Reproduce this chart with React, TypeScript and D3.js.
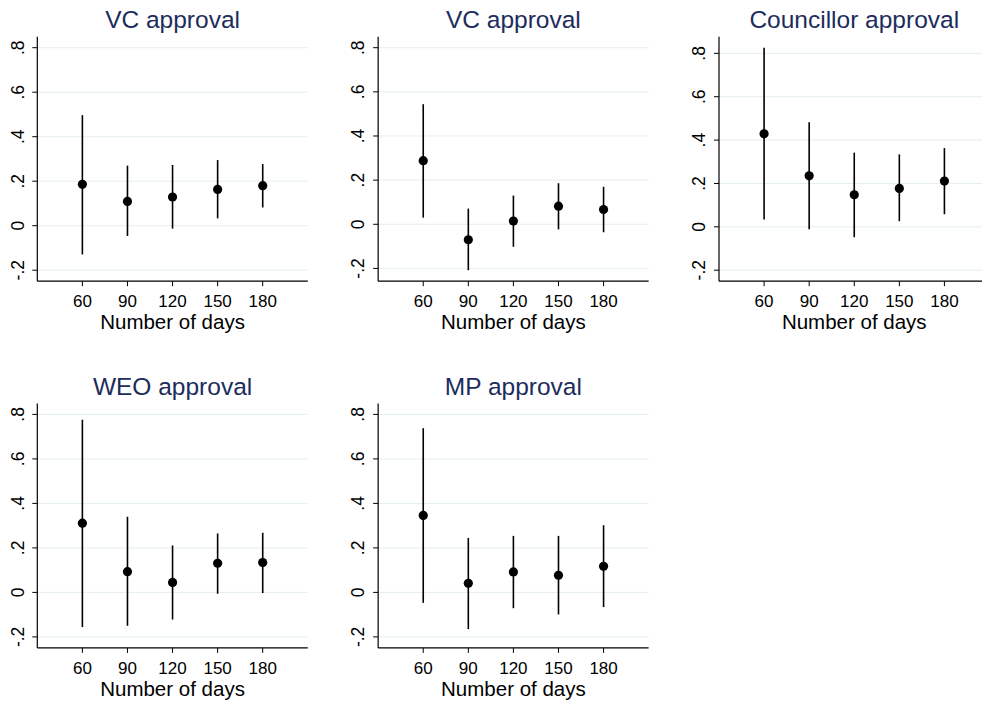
import React from "react";
import * as d3 from "d3";

const days = [60, 90, 120, 150, 180];
const titles = ["VC approval", "VC approval", "Councillor approval", "WEO approval", "MP approval"];
const estimates = [
  [0.186, 0.109, 0.129, 0.163, 0.180],
  [0.288, -0.070, 0.015, 0.082, 0.067],
  [0.429, 0.235, 0.148, 0.177, 0.211],
  [0.311, 0.093, 0.045, 0.131, 0.134],
  [0.346, 0.041, 0.092, 0.077, 0.117],
];
const upper = [
  [0.497, 0.270, 0.273, 0.295, 0.277],
  [0.544, 0.071, 0.130, 0.186, 0.170],
  [0.826, 0.482, 0.342, 0.334, 0.363],
  [0.776, 0.340, 0.211, 0.265, 0.268],
  [0.738, 0.245, 0.254, 0.254, 0.302],
];
const lower = [
  [-0.129, -0.046, -0.013, 0.033, 0.082],
  [0.030, -0.208, -0.102, -0.023, -0.036],
  [0.034, -0.011, -0.048, 0.026, 0.058],
  [-0.156, -0.150, -0.122, -0.006, -0.003],
  [-0.047, -0.165, -0.071, -0.099, -0.066],
];
const yTicks = [-0.2, 0, 0.2, 0.4, 0.6, 0.8];
const yTickLabels = ["-.2", "0", ".2", ".4", ".6", ".8"];
const xTitle = "Number of days";

const W = 982;
const H = 704;
const FONT = "'Liberation Sans', Arial, Helvetica, sans-serif";
const colX0 = 37.3;
const colStep = 340.85;
const rowY0 = 36.7;
const rowStep = 366.7;
const plotW = 270.5;
const plotH = 244.5;
const pad = 11;

function Panel({ idx }: { idx: number }) {
  const col = idx % 3;
  const row = Math.floor(idx / 3);
  const left = colX0 + col * colStep;
  const top = rowY0 + row * rowStep;
  const bottom = top + plotH;
  const right = left + plotW;
  const est = estimates[idx];
  const up = upper[idx];
  const lo = lower[idx];
  const yMin = Math.min(-0.2, d3.min(lo) as number);
  const yMax = Math.max(0.8, d3.max(up) as number);
  const y = d3.scaleLinear().domain([yMin, yMax]).range([bottom - pad, top + pad]);
  const x = d3.scaleLinear().domain([30, 210]).range([left, right]);
  const cx = (left + right) / 2;
  return (
    <g>
      {yTicks.map((t) => (
        <line key={"g" + t} x1={left} x2={right} y1={y(t)} y2={y(t)} stroke="#e4eef0" strokeWidth={1} />
      ))}
      <text x={cx} y={top - 8.4} textAnchor="middle" fontFamily={FONT} fontSize={24.5} fill="#1c2d5c">
        {titles[idx]}
      </text>
      {days.map((d, i) => (
        <g key={"e" + d}>
          <line x1={x(d)} x2={x(d)} y1={y(lo[i])} y2={y(up[i])} stroke="#000" strokeWidth={1.6} />
          <circle cx={x(d)} cy={y(est[i])} r={4.6} fill="#000" />
        </g>
      ))}
      <line x1={left} x2={left} y1={top} y2={bottom} stroke="#000" strokeWidth={1.2} />
      <line x1={left} x2={right} y1={bottom} y2={bottom} stroke="#000" strokeWidth={1.2} />
      {yTicks.map((t, i) => (
        <g key={"yt" + t}>
          <line x1={left - 5} x2={left} y1={y(t)} y2={y(t)} stroke="#000" strokeWidth={1} />
          <text
            transform={`translate(${left - 13.8},${y(t)}) rotate(-90)`}
            textAnchor="middle"
            fontFamily={FONT}
            fontSize={17.5}
            fill="#000"
          >
            {yTickLabels[i]}
          </text>
        </g>
      ))}
      {days.map((d) => (
        <g key={"xt" + d}>
          <line x1={x(d)} x2={x(d)} y1={bottom} y2={bottom + 5} stroke="#000" strokeWidth={1} />
          <text x={x(d)} y={bottom + 26} textAnchor="middle" fontFamily={FONT} fontSize={17} fill="#000">
            {d}
          </text>
        </g>
      ))}
      <text x={cx} y={bottom + 48} textAnchor="middle" fontFamily={FONT} fontSize={20.5} fill="#000">
        {xTitle}
      </text>
    </g>
  );
}

export default function App() {
  return (
    <svg
      width={W}
      height={H}
      viewBox={`0 0 ${W} ${H}`}
      style={{ position: "absolute", left: 0, top: 0, background: "#fff" }}
    >
      <rect x={0} y={0} width={W} height={H} fill="#fff" />
      {titles.map((_, i) => (
        <Panel key={i} idx={i} />
      ))}
    </svg>
  );
}
